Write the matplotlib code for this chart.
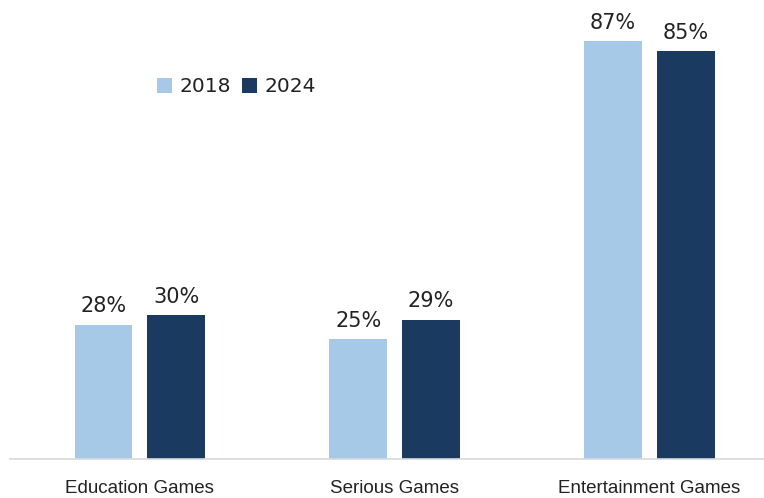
from matplotlib import pyplot as plt
import numpy as np

categories = ['Education Games', 'Serious Games', 'Entertainment Games']
share2018 = [28, 25, 87]
share2024 = [30, 29, 85]

light = '#a7c9e8'
dark = '#1a3a5f'

fig = plt.figure(figsize=(7.64, 4.98), dpi=100)
ax = fig.add_axes([10/764, 39/498, 1 - 10/764, 1 - 39/498])

x = np.arange(len(categories))
width = 0.227
off = 0.143

rects1 = ax.bar(x - off, share2018, width, color=light, label='2018')
rects2 = ax.bar(x + off, share2024, width, color=dark, label='2024')

for rects in (rects1, rects2):
    ax.bar_label(rects, labels=[f'{v}%' for v in rects.datavalues],
                 padding=6, fontsize=15, color='#222222', family='DejaVu Sans')

ax.set_xlim(-0.51, 2.45)
ax.set_ylim(0, 459/4.8)
ax.set_xticks(x, categories, family='Liberation Sans', fontsize=13.5, color='#222222')
ax.tick_params(axis='x', length=0, pad=15)
ax.set_yticks([])
for s in ['top', 'left', 'right']:
    ax.spines[s].set_visible(False)
ax.spines['bottom'].set_color('#d9d9d9')
ax.spines['bottom'].set_linewidth(1.2)

fig.legend(loc='center left', bbox_to_anchor=(139/764, 1 - 87/498), ncol=2,
           frameon=False, handlelength=0.75, handleheight=0.75, handletextpad=0.35,
           columnspacing=0.55, prop={'family': 'DejaVu Sans', 'size': 14.5},
           labelcolor='#222222')

fig.savefig('out.png', dpi=100)
